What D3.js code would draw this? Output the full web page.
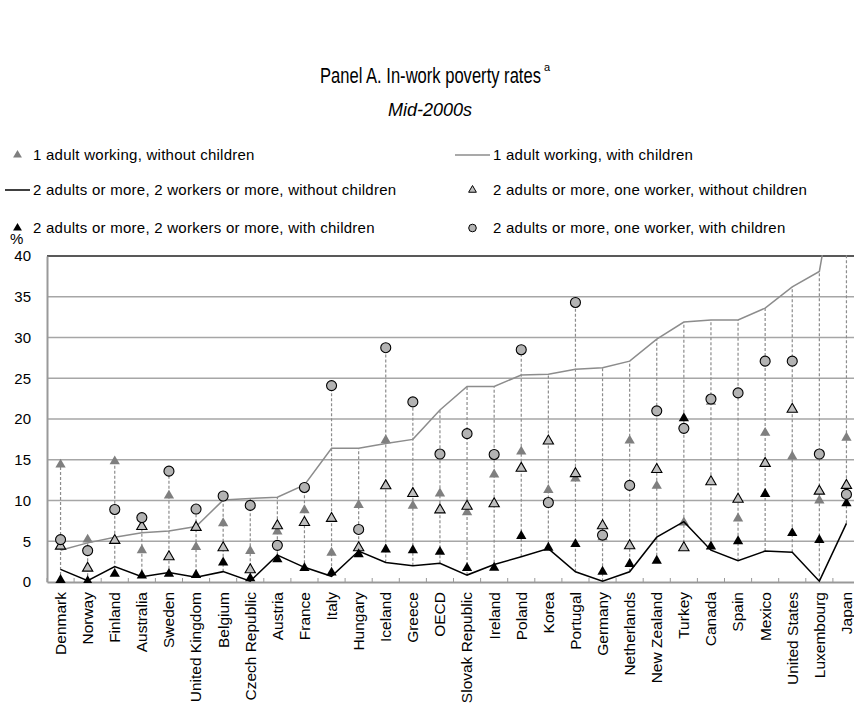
<!DOCTYPE html>
<html>
<head>
<meta charset="utf-8">
<script src="https://cdn.jsdelivr.net/npm/d3@7/dist/d3.min.js"></script>
<style>
  html, body { margin: 0; padding: 0; background: #fff; }
  svg { display: block; }
  .lbl { font-family: "Liberation Sans", Arial, sans-serif; fill: #000; }
</style>
</head>
<body>
<svg id="chart" width="854" height="706"></svg>
<script>
// In-work poverty rates by household type, mid-2000s (%)
const countries = ["Denmark", "Norway", "Finland", "Australia", "Sweden", "United Kingdom", "Belgium",
  "Czech Republic", "Austria", "France", "Italy", "Hungary", "Iceland", "Greece", "OECD",
  "Slovak Republic", "Ireland", "Poland", "Korea", "Portugal", "Germany", "Netherlands",
  "New Zealand", "Turkey", "Canada", "Spain", "Mexico", "United States", "Luxembourg", "Japan"];

const oneAdultNoKids = [14.4, 5.2, 14.8, 3.9, 10.6, 4.3, 7.2, 3.8, 6.2, 8.8, 3.6, 9.45, 17.4, 9.35, 10.85,
  8.55, 13.2, 16.0, 11.3, 12.7, 5.5, 17.35, 11.8, 7.3, 22.1, 7.8, 18.3, 15.4, 10.0, 17.7];
const oneAdultKids = [3.9, 4.8, 5.5, 6.05, 6.25, 6.8, 10.05, 10.25, 10.4, 11.9, 16.4, 16.4, 17.0, 17.5, 21.1,
  24.0, 24.0, 25.4, 25.5, 26.1, 26.3, 27.1, 29.8, 31.9, 32.15, 32.15, 33.6, 36.2, 38.1, 57.0];
const twoWorkersNoKids = [1.55, 0.15, 1.9, 0.65, 1.15, 0.57, 1.27, 0.1, 3.3, 1.8, 0.7, 3.8, 2.4, 2.0, 2.3,
  0.85, 2.15, 3.1, 4.1, 1.25, 0.1, 1.25, 5.5, 7.4, 3.9, 2.6, 3.8, 3.65, 0.1, 7.2];
const oneWorkerNoKids = [4.4, 1.7, 5.1, 6.8, 3.1, 6.7, 4.2, 1.5, 6.9, 7.3, 7.8, 4.2, 11.8, 10.85, 8.85,
  9.3, 9.6, 13.95, 17.3, 13.3, 6.9, 4.45, 13.8, 4.2, 12.3, 10.15, 14.55, 21.2, 11.15, 11.85];
const twoWorkersKids = [0.25, 0.1, 1.0, 0.8, 1.0, 0.85, 2.4, 0.45, 2.8, 1.7, 1.15, 3.4, 4.0, 3.9, 3.7,
  1.7, 1.75, 5.65, 4.2, 4.65, 1.25, 2.2, 2.6, 20.1, 4.35, 5.0, 10.8, 6.0, 5.15, 9.65];
const oneWorkerKids = [5.2, 3.85, 8.9, 7.9, 13.6, 8.95, 10.55, 9.4, 4.5, 11.6, 24.1, 6.45, 28.75, 22.1, 15.7,
  18.2, 15.65, 28.5, 9.75, 34.3, 5.75, 11.85, 21.0, 18.85, 22.45, 23.2, 27.1, 27.1, 15.7, 10.75];

const yTicks = [0, 5, 10, 15, 20, 25, 30, 35, 40];

const legendNames = [
  "1 adult working, without children",
  "1 adult working, with children",
  "2 adults or more, 2 workers or more, without children",
  "2 adults or more, one worker, without children",
  "2 adults or more, 2 workers or more, with children",
  "2 adults or more, one worker, with children"
];

const svg = d3.select("#chart");
const plot = { left: 47, top: 256, bottom: 582, right: 47 + countries.length * 27.1 };

const x = d3.scaleBand().domain(countries).range([plot.left, plot.right]).padding(0);
const cx = d => x(d) + x.bandwidth() / 2;
const y = d3.scaleLinear().domain([0, 40]).range([plot.bottom, plot.top]);

// Titles: the main title is set in a condensed face, so squeeze it horizontally
const titleWidth = 221;
const titleText = svg.append("text")
  .style("font-family", "'Liberation Sans', Arial, sans-serif")
  .style("font-size", "22px")
  .text("Panel A. In-work poverty rates");
const squeeze = titleWidth / titleText.node().getComputedTextLength();
titleText.attr("transform", `translate(320,83) scale(${squeeze},1)`);
svg.append("text")
  .attr("x", 320 + titleWidth + 3).attr("y", 71)
  .style("font-family", "'Liberation Sans', Arial, sans-serif")
  .style("font-size", "11px")
  .text("a");

svg.append("text")
  .attr("x", 430).attr("y", 116)
  .attr("text-anchor", "middle")
  .style("font-family", "'Liberation Sans', Arial, sans-serif")
  .style("font-size", "18px")
  .style("font-style", "italic")
  .text("Mid-2000s");

const clip = svg.append("defs").append("clipPath").attr("id", "plotclip");
clip.append("rect").attr("x", plot.left).attr("y", plot.top - 1)
  .attr("width", plot.right - plot.left).attr("height", plot.bottom - plot.top + 2);

// Gridlines
svg.append("g").selectAll("line").data(yTicks.filter(t => t > 0)).join("line")
  .attr("x1", plot.left).attr("x2", plot.right)
  .attr("y1", d => y(d)).attr("y2", d => y(d))
  .attr("stroke", d => d === 40 ? "#222" : "#a6a6a6")
  .attr("stroke-width", d => d === 40 ? 1.5 : 1.3);

// Axes
const yAxis = svg.append("g").attr("transform", `translate(${plot.left},0)`)
  .call(d3.axisLeft(y).tickValues(yTicks).tickSize(0).tickPadding(16));
yAxis.select(".domain").attr("stroke", "#999").attr("stroke-width", 2);
yAxis.selectAll("text").attr("class", "lbl").style("font-size", "15px");

svg.append("text").attr("class", "lbl").attr("x", 10).attr("y", 244)
  .style("font-size", "15px").text("%");

const xAxis = svg.append("g").attr("transform", `translate(0,${plot.bottom})`)
  .call(d3.axisBottom(x).tickSize(0).tickFormat(""));
xAxis.select(".domain").attr("stroke", "#999").attr("stroke-width", 2);
// inner tick marks between categories
svg.append("g").selectAll("line").data(d3.range(countries.length + 1)).join("line")
  .attr("x1", i => plot.left + i * x.bandwidth()).attr("x2", i => plot.left + i * x.bandwidth())
  .attr("y1", plot.bottom).attr("y2", plot.bottom - 4)
  .attr("stroke", "#999").attr("stroke-width", 1);

// Category labels, rotated
svg.append("g").selectAll("text").data(countries).join("text")
  .attr("class", "lbl")
  .attr("transform", d => `translate(${cx(d)},592) rotate(-90)`)
  .attr("text-anchor", "end")
  .attr("dy", "0.35em")
  .style("font-size", "15.5px")
  .text(d => d);

const series = [oneAdultNoKids, oneAdultKids, twoWorkersNoKids, oneWorkerNoKids, twoWorkersKids, oneWorkerKids];

const g = svg.append("g").attr("clip-path", "url(#plotclip)");

// High-low connectors spanning all series at each category
g.append("g").selectAll("line").data(countries).join("line")
  .attr("x1", d => cx(d)).attr("x2", d => cx(d))
  .attr("y1", (d, i) => y(d3.min(series, s => s[i])))
  .attr("y2", (d, i) => y(d3.max(series, s => s[i])))
  .attr("stroke", "#8c8c8c").attr("stroke-width", 1.2)
  .attr("stroke-dasharray", "3,2");

const line = vals => d3.line().x((v, i) => cx(countries[i])).y(v => y(v))(vals);

// Series in legend order
const tri = d3.symbol().type(d3.symbolTriangle).size(46);

g.append("g").selectAll("path").data(oneAdultNoKids).join("path")
  .attr("d", tri).attr("transform", (v, i) => `translate(${cx(countries[i])},${y(v)})`)
  .attr("fill", "#7f7f7f");

g.append("path").attr("d", line(oneAdultKids))
  .attr("fill", "none").attr("stroke", "#8c8c8c").attr("stroke-width", 1.5);

g.append("path").attr("d", line(twoWorkersNoKids))
  .attr("fill", "none").attr("stroke", "#000").attr("stroke-width", 1.5);

g.append("g").selectAll("path").data(oneWorkerNoKids).join("path")
  .attr("d", tri).attr("transform", (v, i) => `translate(${cx(countries[i])},${y(v)})`)
  .attr("fill", "#bfbfbf").attr("stroke", "#000").attr("stroke-width", 1.1);

g.append("g").selectAll("path").data(twoWorkersKids).join("path")
  .attr("d", tri).attr("transform", (v, i) => `translate(${cx(countries[i])},${y(v)})`)
  .attr("fill", "#000");

g.append("g").selectAll("circle").data(oneWorkerKids).join("circle")
  .attr("cx", (v, i) => cx(countries[i])).attr("cy", v => y(v)).attr("r", 5)
  .attr("fill", "#b3b3b3").attr("stroke", "#000").attr("stroke-width", 1.1);

// Legend: each entry has a symbol box followed by its label
const legend = [
  { name: legendNames[0], x: 5, w: 25, y: 155, kind: "tri", fill: "#7f7f7f" },
  { name: legendNames[1], x: 455, w: 35, y: 155, kind: "line", stroke: "#8c8c8c" },
  { name: legendNames[2], x: 5, w: 25, y: 190, kind: "line", stroke: "#000" },
  { name: legendNames[3], x: 455, w: 35, y: 190, kind: "otri" },
  { name: legendNames[4], x: 5, w: 25, y: 228, kind: "tri", fill: "#000" },
  { name: legendNames[5], x: 455, w: 35, y: 228, kind: "circle" }
];
const lg = svg.append("g");
legend.forEach(it => {
  const row = lg.append("g").attr("transform", `translate(${it.x},${it.y})`);
  const mid = it.w / 2;
  if (it.kind === "line") {
    row.append("line").attr("x1", 0).attr("x2", it.w).attr("y1", 0).attr("y2", 0)
      .attr("stroke", it.stroke).attr("stroke-width", 1.5);
  } else if (it.kind === "tri") {
    row.append("path").attr("d", d3.symbol().type(d3.symbolTriangle).size(34))
      .attr("transform", `translate(${mid},0)`).attr("fill", it.fill);
  } else if (it.kind === "otri") {
    row.append("path").attr("d", d3.symbol().type(d3.symbolTriangle).size(26))
      .attr("transform", `translate(${mid},0)`).attr("fill", "#bfbfbf").attr("stroke", "#000").attr("stroke-width", 1);
  } else {
    row.append("circle").attr("cx", mid).attr("cy", 0).attr("r", 3.8)
      .attr("fill", "#b3b3b3").attr("stroke", "#000").attr("stroke-width", 1);
  }
  row.append("text").attr("class", "lbl")
    .attr("x", it.w + 3).attr("y", 0).attr("dy", "0.35em")
    .style("font-size", "15px").style("letter-spacing", "0.25px").text(it.name);
});
</script>
</body>
</html>
